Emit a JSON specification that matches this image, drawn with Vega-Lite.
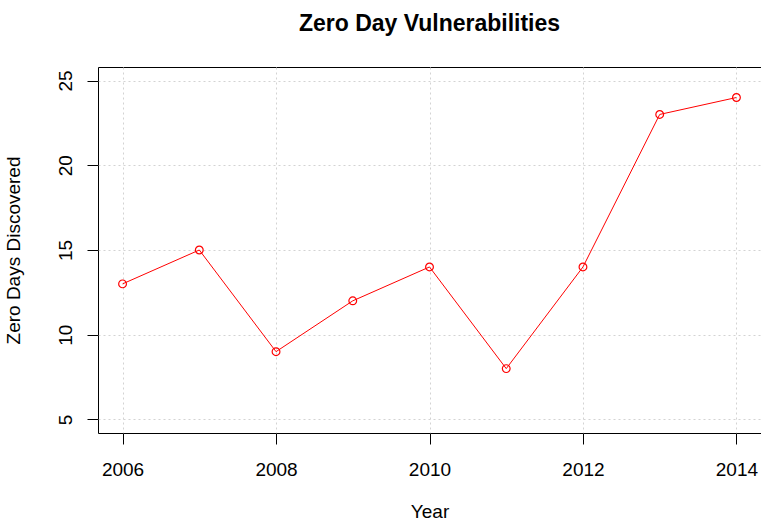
{
  "$schema": "https://vega.github.io/schema/vega-lite/v6.json",
  "width": 663,
  "height": 366,
  "autosize": {"type": "none"},
  "padding": {"left": 98, "top": 67, "right": 0, "bottom": 89},
  "background": "white",
  "title": {"text": "Zero Day Vulnerabilities", "font": "Liberation Sans", "fontSize": 23, "fontWeight": "bold", "color": "black", "offset": 31, "anchor": "middle"},
  "config": {
    "view": {"stroke": "black", "strokeWidth": 1},
    "axis": {"labelFont": "Liberation Sans", "titleFont": "Liberation Sans", "labelFontSize": 19, "titleFontSize": 19, "titleFontWeight": "normal", "labelColor": "black", "titleColor": "black", "tickColor": "black", "tickSize": 11, "domain": false, "gridColor": "#d3d3d3", "gridDash": [2, 3], "gridWidth": 1}
  },
  "data": {"values": [
    {"Year": 2006, "ZeroDays": 13},
    {"Year": 2007, "ZeroDays": 15},
    {"Year": 2008, "ZeroDays": 9},
    {"Year": 2009, "ZeroDays": 12},
    {"Year": 2010, "ZeroDays": 14},
    {"Year": 2011, "ZeroDays": 8},
    {"Year": 2012, "ZeroDays": 14},
    {"Year": 2013, "ZeroDays": 23},
    {"Year": 2014, "ZeroDays": 24}
  ]},
  "encoding": {
    "x": {"field": "Year", "type": "quantitative", "scale": {"domain": [2005.68, 2014.32], "nice": false, "zero": false},
      "axis": {"values": [2006, 2008, 2010, 2012, 2014], "format": "d", "title": "Year", "labelPadding": 16, "titlePadding": 23}},
    "y": {"field": "ZeroDays", "type": "quantitative", "scale": {"domain": [4.2, 25.8], "nice": false, "zero": false},
      "axis": {"values": [5, 10, 15, 20, 25], "title": "Zero Days Discovered", "labelAngle": -90, "labelPadding": 12, "titlePadding": 33}}
  },
  "layer": [
    {"mark": {"type": "line", "color": "red", "strokeWidth": 1}},
    {"mark": {"type": "point", "shape": "circle", "filled": false, "color": "red", "size": 60, "strokeWidth": 1.2, "opacity": 1}}
  ]
}
